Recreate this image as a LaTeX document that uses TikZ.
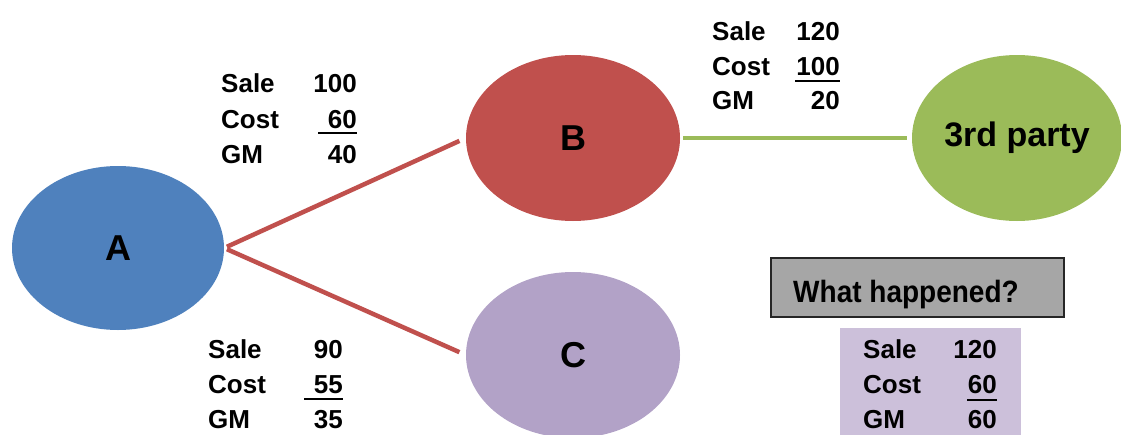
\documentclass[tikz,border=0pt]{standalone}
\usepackage{fontspec}
\setmainfont{Liberation Sans}
\usetikzlibrary{shapes.geometric}
\definecolor{cA}{HTML}{4F81BD}
\definecolor{cB}{HTML}{C0504D}
\definecolor{cC}{HTML}{B2A2C7}
\definecolor{cD}{HTML}{9BBB59}
\definecolor{cbox}{HTML}{A6A6A6}
\definecolor{cpbox}{HTML}{CCC0DA}
\tikzset{
  blob/.style={ellipse, draw=none, inner sep=0pt, font=\fontsize{36}{40}\selectfont\bfseries},
  tlab/.style={anchor=base west, inner sep=0pt, font=\fontsize{26}{30}\selectfont\bfseries},
  tnum/.style={anchor=base east, inner sep=0pt, font=\fontsize{26}{30}\selectfont\bfseries},
  link/.style={line width=4.5pt},
  uline/.style={line width=2.5pt}
}
\newcommand{\mytable}[9]{%
  \node[tlab] (#1sl) at (#2,#4) {Sale};
  \node[tnum] (#1sn) at (#3,#4) {#7};
  \node[tlab] (#1cl) at (#2,#5) {Cost};
  \node[tnum] (#1cn) at (#3,#5) {#8};
  \node[tlab] (#1gl) at (#2,#6) {GM};
  \node[tnum] (#1gn) at (#3,#6) {#9};
}
\begin{document}
\begin{tikzpicture}[x=1pt,y=-1pt]
\useasboundingbox (0,0) rectangle (1121,434);
\begin{scope}
\clip (0,0) rectangle (1121,434);
% boxes
\node[draw=black!85, line width=2pt, fill=cbox, minimum width=293pt, minimum height=59pt, inner sep=0pt, anchor=north west] (wh) at (770,257) {};
\node[anchor=base west, inner sep=0pt, font=\fontsize{28}{32}\selectfont\bfseries, yscale=1.1] (whtext) at (793,302) {What happened?};
\node[fill=cpbox, minimum width=181pt, minimum height=110pt, inner sep=0pt, anchor=north west] (pbox) at (840,328) {};
% ellipses
\node[blob, fill=cA, minimum width=212pt, minimum height=164pt] (A) at (118,248) {A};
\node[blob, fill=cB, minimum width=214pt, minimum height=166pt] (B) at (573,138) {B};
\node[blob, fill=cC, minimum width=214pt, minimum height=166pt] (C) at (573,355) {C};
\node[blob, fill=cD, minimum width=210pt, minimum height=166pt, font=\fontsize{34}{38}\selectfont\bfseries] (P) at (1017,138) {3rd party};
% links
\draw[link, cB, shorten <=3pt, shorten >=7pt] (A.east) -- (B.west);
\draw[link, cB, shorten <=3pt, shorten >=7pt] (A.east) -- (C.west);
\draw[link, cD, shorten <=3pt, shorten >=5pt] (B.east) -- (P.west);
% tables
\mytable{t1}{221}{357}{92}{128}{163}{100}{60}{40}
\draw[uline] (318,133) -- (t1cn.base east |- 0,133);
\mytable{t2}{208}{343}{358}{393}{428}{90}{55}{35}
\draw[uline] (304,399) -- (t2cn.base east |- 0,399);
\mytable{t3}{712}{840}{40}{75}{109}{120}{100}{20}
\draw[uline] (795,81) -- (t3cn.base east |- 0,81);
\mytable{t4}{863}{997}{358}{393}{428}{120}{60}{60}
\draw[uline] (967,400) -- (t4cn.base east |- 0,400);
\end{scope}
\end{tikzpicture}
\end{document}
